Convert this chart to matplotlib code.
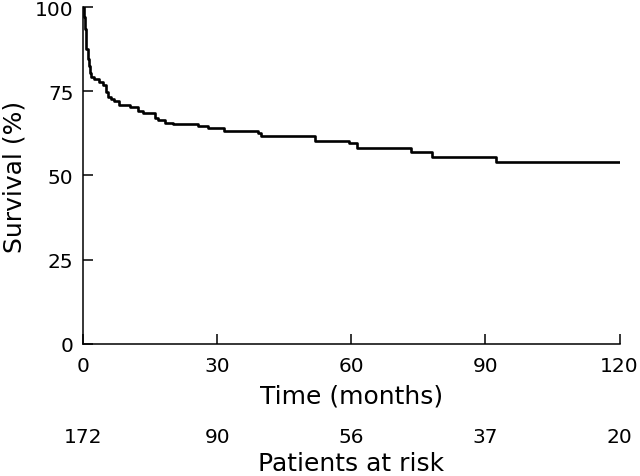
import matplotlib
matplotlib.use("Agg")
import matplotlib.pyplot as plt
from matplotlib.transforms import blended_transform_factory

plt.rcParams['font.family'] = ['DejaVu Sans']

# Kaplan-Meier step curve (time in months, survival in %)
times = [0, 0.2, 0.4, 0.7, 1.0, 1.2, 1.5, 1.8, 2.5, 3.6, 4.4, 5.0, 5.5, 6.3, 7.0, 8.0,
         10.4, 12.3, 13.4, 16.0, 16.8, 18.3, 20.1, 25.7, 27.9, 31.6, 39.0, 39.8,
         51.8, 59.4, 61.3, 73.4, 78.0, 92.3, 120]
survival = [100, 97, 93.5, 87.5, 84.6, 82.6, 80.5, 79.1, 78.6, 77.8, 76.9, 74.7, 73.4,
            72.7, 72.0, 71.0, 70.4, 69.2, 68.5, 67.2, 66.5, 65.7, 65.4, 64.7, 64.0,
            63.3, 62.6, 61.6, 60.3, 59.5, 58.3, 57.1, 55.6, 54.1, 54.1]

risk_times = [0, 30, 60, 90, 120]
at_risk = [172, 90, 56, 37, 20]

fig = plt.figure(figsize=(6.4, 4.77), dpi=100)
ax = fig.add_axes([0.13, 0.277, 0.838, 0.706])

ax.step(times, survival, where='post', color='black', linewidth=1.9)

ax.set_xlim(0, 120)
ax.set_ylim(0, 100)
ax.set_xticks(risk_times)
ax.set_yticks([0, 25, 50, 75, 100])
ax.spines['top'].set_visible(False)
ax.spines['right'].set_visible(False)
for s in ['left', 'bottom']:
    ax.spines[s].set_linewidth(1.1)
ax.tick_params(direction='in', length=7, width=1.1, labelsize=14.5, pad=9)
ax.tick_params(axis='y', pad=7)

ax.set_xlabel('Time (months)', fontsize=18, labelpad=6)
ax.set_ylabel('Survival (%)', fontsize=18, labelpad=6)

# numbers at risk under the axis
trans = blended_transform_factory(ax.transData, fig.transFigure)
for t, n in zip(risk_times, at_risk):
    ax.text(t, 0.083, str(n), transform=trans, ha='center', va='center', fontsize=14.5)
ax.text(60, 0.028, 'Patients at risk', transform=trans, ha='center', va='center', fontsize=18)

fig.savefig('out.png', dpi=100)
